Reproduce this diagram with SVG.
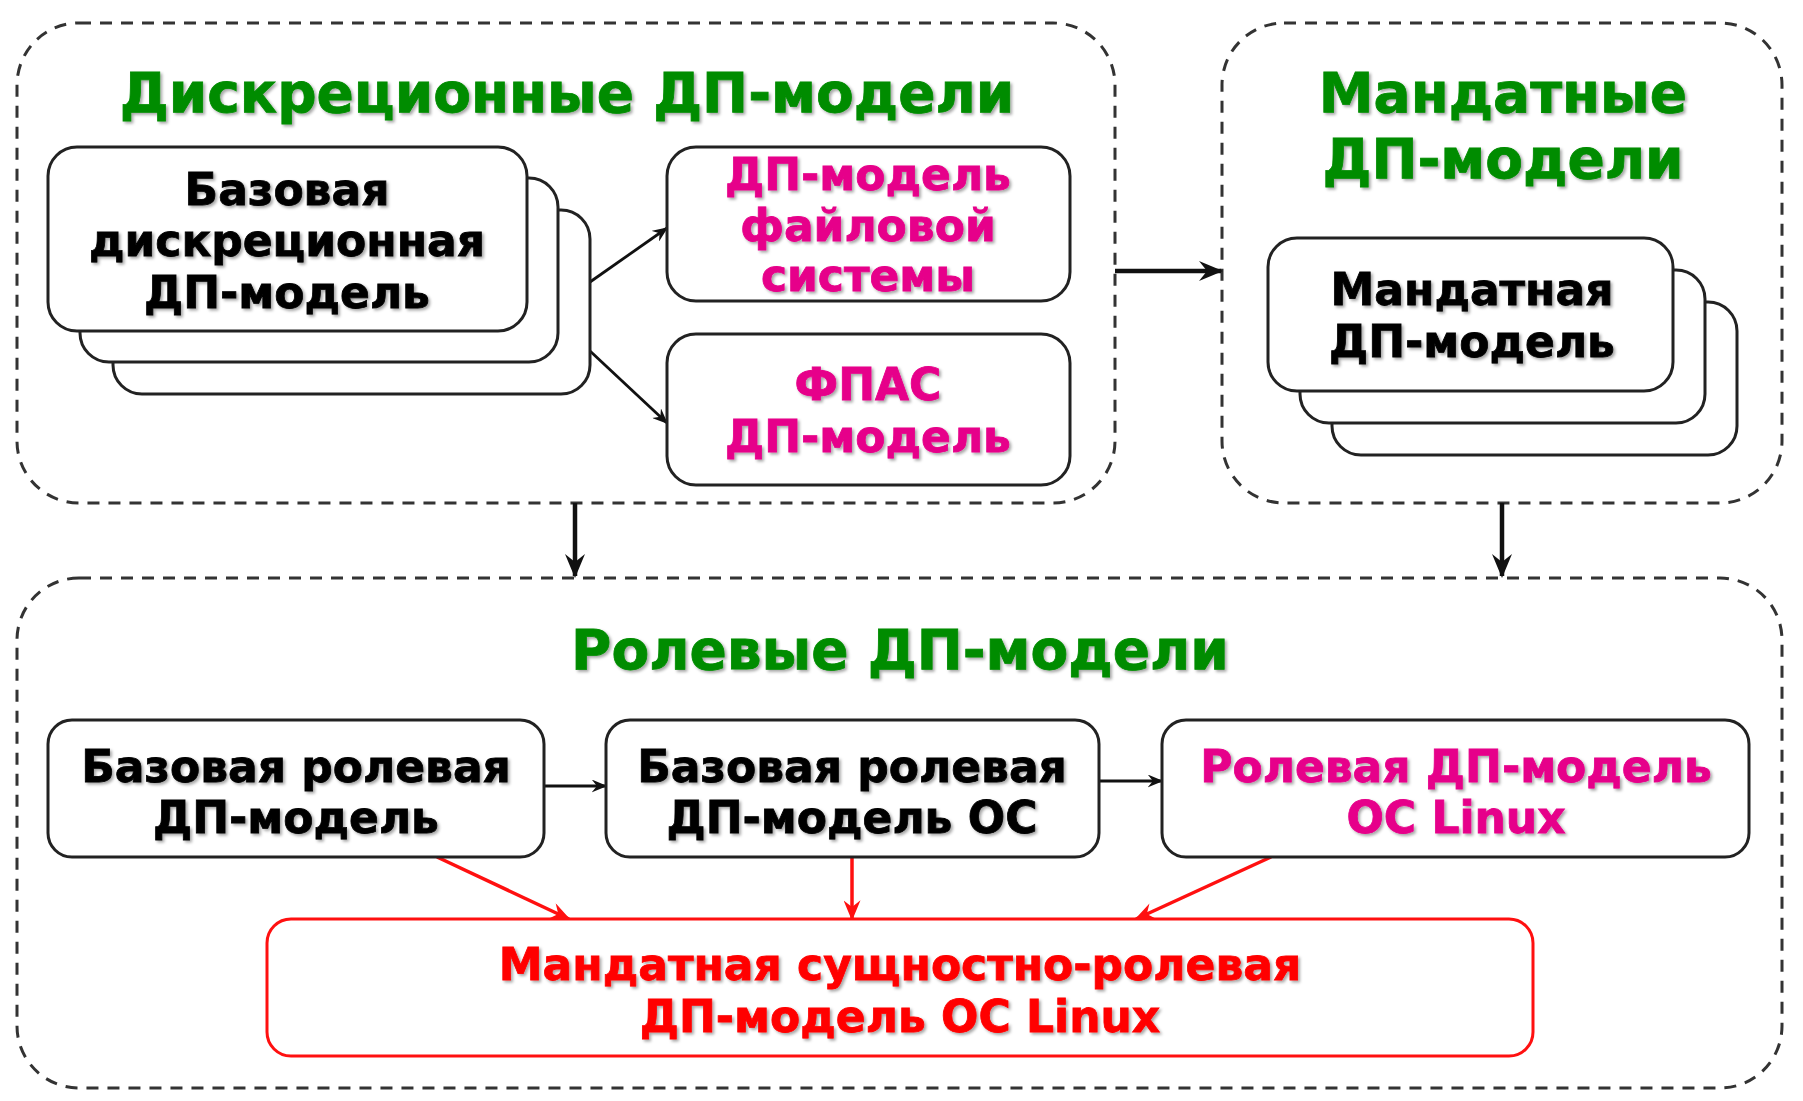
<svg xmlns="http://www.w3.org/2000/svg" width="1803" height="1101" viewBox="0 0 1803 1101">
  <style>
    text { font-family: "DejaVu Sans", Verdana, sans-serif; font-weight: bold; text-anchor: middle; filter: url(#tshadow); stroke-width: 0.8; }
    .title { font-size: 55px; fill: #008c00; stroke: #008c00; }
    .lbl { font-size: 44px; fill: #000; stroke: #000; }
    .pink { font-size: 44px; fill: #e6008a; stroke: #e6008a; }
    .red { font-size: 44px; fill: #ff0000; stroke: #ff0000; }
    .group { fill: none; stroke: #333; stroke-width: 3; stroke-dasharray: 12 9; }
    .node { fill: #fff; stroke: #222; stroke-width: 3; }
    .rnode { fill: #fff; stroke: #ff1010; stroke-width: 3; }
    .edge { fill: none; stroke: #111; stroke-width: 2.8; }
    .thick { fill: none; stroke: #111; stroke-width: 4.5; }
    .redge { fill: none; stroke: #ff1010; stroke-width: 3.5; }
  </style>
  <defs>
    <filter id="tshadow" x="-5%" y="-20%" width="110%" height="140%">
      <feDropShadow dx="2" dy="2" stdDeviation="1.5" flood-color="#000" flood-opacity="0.35"/>
    </filter>
    <marker id="arr" viewBox="0 0 12 10" refX="11" refY="5" markerWidth="16" markerHeight="13" markerUnits="userSpaceOnUse" orient="auto">
      <path d="M0,0 L12,5 L0,10 L4,5 z" fill="#111"/>
    </marker>
    <marker id="arrBig" viewBox="0 0 12 10" refX="11" refY="5" markerWidth="26" markerHeight="20" markerUnits="userSpaceOnUse" orient="auto">
      <path d="M0,0 L12,5 L0,10 L4,5 z" fill="#111"/>
    </marker>
    <marker id="arrRed" viewBox="0 0 12 10" refX="11" refY="5" markerWidth="22" markerHeight="17" markerUnits="userSpaceOnUse" orient="auto">
      <path d="M0,0 L12,5 L0,10 L4,5 z" fill="#ff1010"/>
    </marker>
  </defs>

  <rect width="1803" height="1101" fill="#fff"/>

  <!-- group containers -->
  <g id="grp-discretionary">
    <rect class="group" x="17" y="23" width="1098" height="480" rx="62"/>
    <text class="title" x="567" y="112">Дискреционные ДП-модели</text>
  </g>
  <g id="grp-mandatory">
    <rect class="group" x="1222" y="23" width="560" height="480" rx="62"/>
    <text class="title" x="1503" y="112">Мандатные</text>
    <text class="title" x="1503" y="178">ДП-модели</text>
  </g>
  <g id="grp-role">
    <rect class="group" x="17" y="578" width="1765" height="510" rx="62"/>
    <text class="title" x="900" y="669">Ролевые ДП-модели</text>
  </g>

  <!-- connectors -->
  <g id="connectors">
    <path class="edge" d="M590,282 L667,228" marker-end="url(#arr)"/>
    <path class="edge" d="M590,351 L667,423" marker-end="url(#arr)"/>
    <path class="thick" d="M1115,271 L1221,271" marker-end="url(#arrBig)"/>
    <path class="thick" d="M575,503 L575,576" marker-end="url(#arrBig)"/>
    <path class="thick" d="M1502,503 L1502,576" marker-end="url(#arrBig)"/>
    <path class="edge" d="M544,786 L606,786" marker-end="url(#arr)"/>
    <path class="edge" d="M1099,781 L1162,781" marker-end="url(#arr)"/>
    <path class="redge" d="M437,857 L569,919" marker-end="url(#arrRed)"/>
    <path class="redge" d="M852,857 L852,919" marker-end="url(#arrRed)"/>
    <path class="redge" d="M1271,857 L1136,919" marker-end="url(#arrRed)"/>
  </g>

  <!-- nodes -->
  <g id="node-base-discretionary">
    <rect class="node" x="113" y="210" width="477" height="184" rx="29"/>
    <rect class="node" x="80" y="178" width="478" height="184" rx="29"/>
    <rect class="node" x="48" y="147" width="479" height="184" rx="29"/>
    <text class="lbl" x="287" y="205">Базовая</text>
    <text class="lbl" x="287" y="256">дискреционная</text>
    <text class="lbl" x="287" y="308">ДП-модель</text>
  </g>
  <g id="node-filesystem">
    <rect class="node" x="667" y="147" width="403" height="154" rx="29"/>
    <text class="pink" x="868" y="190">ДП-модель</text>
    <text class="pink" x="868" y="241">файловой</text>
    <text class="pink" x="868" y="291">системы</text>
  </g>
  <g id="node-fpas">
    <rect class="node" x="667" y="334" width="403" height="151" rx="29"/>
    <text class="pink" x="868" y="400">ФПАС</text>
    <text class="pink" x="868" y="452">ДП-модель</text>
  </g>
  <g id="node-mandatory">
    <rect class="node" x="1332" y="302" width="405" height="153" rx="29"/>
    <rect class="node" x="1300" y="270" width="405" height="153" rx="29"/>
    <rect class="node" x="1268" y="238" width="405" height="153" rx="29"/>
    <text class="lbl" x="1472" y="305">Мандатная</text>
    <text class="lbl" x="1472" y="357">ДП-модель</text>
  </g>
  <g id="node-base-role">
    <rect class="node" x="48" y="720" width="496" height="137" rx="24"/>
    <text class="lbl" x="296" y="782">Базовая ролевая</text>
    <text class="lbl" x="296" y="833">ДП-модель</text>
  </g>
  <g id="node-base-role-os">
    <rect class="node" x="606" y="720" width="493" height="137" rx="24"/>
    <text class="lbl" x="852" y="782">Базовая ролевая</text>
    <text class="lbl" x="852" y="833">ДП-модель ОС</text>
  </g>
  <g id="node-role-linux">
    <rect class="node" x="1162" y="720" width="587" height="137" rx="24"/>
    <text class="pink" x="1456" y="782">Ролевая ДП-модель</text>
    <text class="pink" x="1456" y="833">ОС Linux</text>
  </g>
  <g id="node-mandatory-entity-role">
    <rect class="rnode" x="267" y="919" width="1266" height="137" rx="24"/>
    <text class="red" x="900" y="980">Мандатная сущностно-ролевая</text>
    <text class="red" x="900" y="1032">ДП-модель ОС Linux</text>
  </g>
</svg>
